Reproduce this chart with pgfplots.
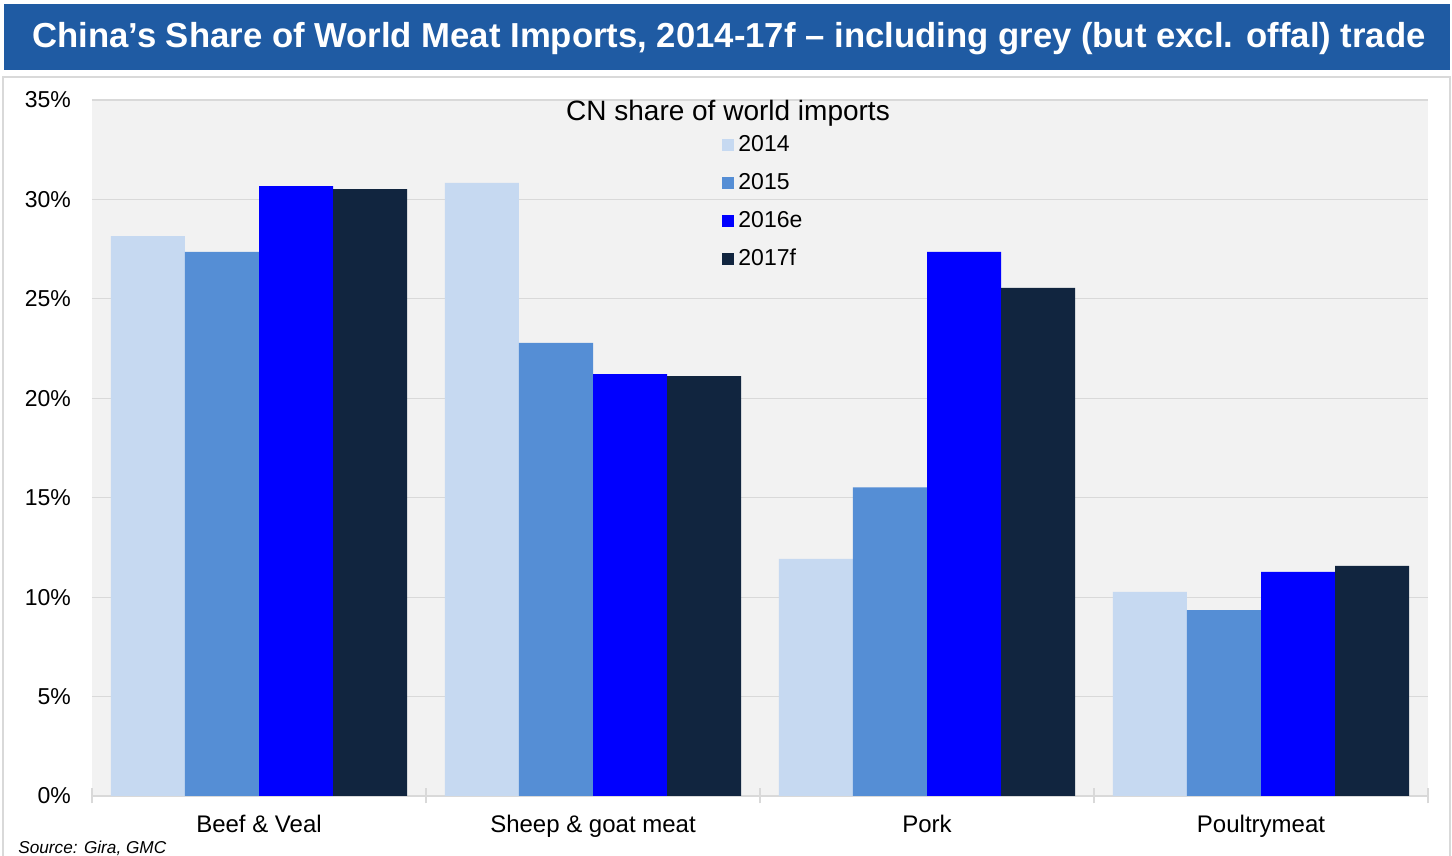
\documentclass[border=0pt]{standalone}
\usepackage{fontspec}
\setmainfont{Liberation Sans}
\usepackage{pgfplots}
\pgfplotsset{compat=1.18}
\definecolor{cA}{HTML}{C6D9F1}
\definecolor{cB}{HTML}{558ED5}
\definecolor{cC}{HTML}{0000FF}
\definecolor{cD}{HTML}{11253F}
\definecolor{banner}{HTML}{1F5BA3}
\definecolor{plotbg}{HTML}{F2F2F2}
\definecolor{gridc}{HTML}{D9D9D9}
\begin{document}
\begin{tikzpicture}[x=1pt,y=1pt]
\path[use as bounding box] (0,0) rectangle (726,428);
\fill[banner] (2,393) rectangle (725,426);
\node[white, font=\fontsize{17.35}{20}\selectfont\bfseries] at (364.5,408.5) {China’s Share of World Meat Imports, 2014-17f – including grey (but excl. offal) trade};
\draw[gridc, line width=1pt] (1.5,-2) -- (1.5,389.5) -- (725,389.5) -- (725,-2);
\begin{axis}[
  at={(46pt,30pt)}, anchor=south west,
  width=668pt, height=348pt, scale only axis,
  xmin=-0.5, xmax=3.5, ymin=0, ymax=35,
  ybar, bar width=0.2216,
  axis background/.style={fill=plotbg},
  axis x line*=bottom, axis y line*=left,
  x axis line style={draw=gridc, -},
  y axis line style={draw=none},
  ymajorgrids, major grid style={draw=gridc, line width=0.6pt},
  ytick={0,5,...,35},
  yticklabel={\pgfmathprintnumber{\tick}\%},
  /pgf/number format/assume math mode=true,
  yticklabel style={font=\fontsize{11.5}{13}\selectfont, xshift=-7pt},
  xtick={0,1,2,3},
  xticklabels={Beef \& Veal, Sheep \& goat meat, Pork, Poultrymeat},
  xticklabel style={font=\fontsize{12}{14}\selectfont, yshift=-6pt},
  major tick length=0pt,
  extra x ticks={-0.5,0.5,1.5,2.5,3.5},
  extra x tick labels={},
  extra x tick style={major tick length=7.5pt, tick align=center, xmajorgrids=false, tick style={draw=gridc, line width=0.6pt}},
  legend style={at={(0.4671,0.9605)}, anchor=north west, draw=none, fill=none,
    font=\fontsize{11.5}{13}\selectfont, row sep=5.3pt, nodes={inner xsep=2pt}},
  legend cell align=left,
  legend image code/.code={\fill[#1] (0pt,-3pt) rectangle (6pt,3pt);},
]
\addplot[fill=cA, draw=none, bar shift=-0.3324] coordinates {(0,28.15) (1,30.83) (2,11.92) (3,10.26)};
\addplot[fill=cB, draw=none, bar shift=-0.1108] coordinates {(0,27.36) (1,22.78) (2,15.52) (3,9.35)};
\addplot[fill=cC, draw=none, bar shift=0.1108] coordinates {(0,30.67) (1,21.22) (2,27.36) (3,11.27)};
\addplot[fill=cD, draw=none, bar shift=0.3324] coordinates {(0,30.52) (1,21.12) (2,25.55) (3,11.57)};
\legend{2014,2015,2016e,2017f}
\end{axis}
\node[font=\fontsize{14}{16}\selectfont] at (364,371.5) {CN share of world imports};
\node[anchor=west, font=\fontsize{8.6}{10}\selectfont\itshape, inner sep=0pt] at (9,4) {Source: Gira, GMC};
\end{tikzpicture}
\end{document}
